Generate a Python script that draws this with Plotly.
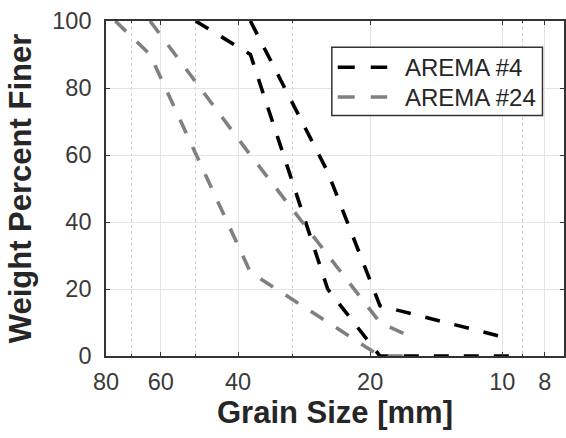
import numpy as np
import plotly.graph_objects as go

# Ballast gradation envelopes (sieve size in mm, percent passing)
arema4_size_lower = [50, 37.5, 25, 19, 9.5]
arema4_pct_lower = [100, 90, 20, 0, 0]
arema4_size_upper = [37.5, 25, 19, 9.5]
arema4_pct_upper = [100, 55, 15, 5]

arema24_size_lower = [76.2, 63.5, 37.5, 19, 15.7]
arema24_pct_lower = [100, 90, 25, 0, 0]
arema24_size_upper = [63.5, 37.5, 19, 15.7]
arema24_pct_upper = [100, 60, 10, 5]

series_names = ["AREMA #4", "AREMA #24"]
series_colors = ["#000000", "#808080"]

x_ticks = [80, 60, 40, 20, 10, 8]
x_minor = [90, 70, 50, 30, 9, 7]
y_ticks = [0, 20, 40, 60, 80, 100]


def envelope(size_a, pct_a, size_b, pct_b):
    # join both bounds into one trace, separated by a gap
    return list(size_a) + [None] + list(size_b), list(pct_a) + [None] + list(pct_b)


DASH = "15px,15px"
AXIS_COLOR = "#333333"
TEXT_COLOR = "#262626"
FONT = "Liberation Sans, Arial, sans-serif"

fig = go.Figure()

envelopes = [
    envelope(arema4_size_lower, arema4_pct_lower, arema4_size_upper, arema4_pct_upper),
    envelope(arema24_size_lower, arema24_pct_lower, arema24_size_upper, arema24_pct_upper),
]
for (xs, ys), name, color in zip(envelopes, series_names, series_colors):
    fig.add_trace(go.Scatter(
        x=xs, y=ys, mode="lines", name=name,
        line=dict(color=color, width=3.6, dash=DASH),
        connectgaps=False, showlegend=False,
    ))

W, H = 566, 438
ml, mt, mb = 106, 21, 82
x_left = 80.0
# right edge of the axes sits just beyond 8 mm
px_per_decade = 440.7
x_right = 10 ** (np.log10(x_left) - (W - ml) / px_per_decade)

# boxed legend in the upper right of the axes (paper coordinates)
box_x0, box_x1, box_y0, box_y1 = 0.493, 0.953, 0.718, 0.922
row_y = [0.862, 0.773]
sample_x0, sample_x1 = 0.506, 0.614
text_x = 0.648

shapes = [dict(type="rect", xref="paper", yref="paper",
               x0=box_x0, x1=box_x1, y0=box_y0, y1=box_y1,
               line=dict(color=AXIS_COLOR, width=1.5), fillcolor="white", layer="above")]
annotations = []
for yr, name, color in zip(row_y, series_names, series_colors):
    shapes.append(dict(type="line", xref="paper", yref="paper",
                       x0=sample_x0, x1=sample_x1, y0=yr, y1=yr,
                       line=dict(color=color, width=3.6, dash="17px,16px"), layer="above"))
    annotations.append(dict(xref="paper", yref="paper", x=text_x, y=yr,
                            xanchor="left", yanchor="middle", showarrow=False,
                            text=name, font=dict(family=FONT, size=24, color=TEXT_COLOR)))

fig.update_layout(
    width=W, height=H,
    margin=dict(l=ml, r=0, t=mt, b=mb, pad=0),
    paper_bgcolor="white", plot_bgcolor="white",
    font=dict(family=FONT, color=TEXT_COLOR, size=22),
    showlegend=False,
    shapes=shapes,
    annotations=annotations,
    xaxis=dict(
        type="log",
        range=[np.log10(x_left), np.log10(x_right)],
        tickmode="array", tickvals=x_ticks, ticktext=[str(v) for v in x_ticks],
        ticks="inside", ticklen=4, tickwidth=1, tickcolor=AXIS_COLOR,
        showline=True, linecolor=AXIS_COLOR, linewidth=1.6, mirror="ticks",
        showgrid=True, gridcolor="#e3e3e3", gridwidth=1,
        minor=dict(tickmode="array", tickvals=x_minor, ticks="inside", ticklen=2,
                   tickcolor=AXIS_COLOR, showgrid=True, gridcolor="#cfcfcf",
                   griddash="dot", gridwidth=1),
        tickfont=dict(family=FONT, size=23.5, color="#3a3a3a"),
        ticklabelstandoff=4,
        title=dict(text="<b>Grain Size [mm]</b>", font=dict(family=FONT, size=31, color=TEXT_COLOR),
                   standoff=6),
        zeroline=False,
    ),
    yaxis=dict(
        range=[0, 100],
        tickmode="array", tickvals=y_ticks, ticktext=[str(v) for v in y_ticks],
        ticks="inside", ticklen=4, tickwidth=1, tickcolor=AXIS_COLOR,
        showline=True, linecolor=AXIS_COLOR, linewidth=1.6, mirror="ticks",
        showgrid=True, gridcolor="#e3e3e3", gridwidth=1,
        tickfont=dict(family=FONT, size=23.5, color="#3a3a3a"),
        ticklabelstandoff=8,
        title=dict(text="<b>Weight Percent Finer</b>", font=dict(family=FONT, size=31, color=TEXT_COLOR),
                   standoff=11),
        zeroline=False,
    ),
)

fig.write_html("out.html")
